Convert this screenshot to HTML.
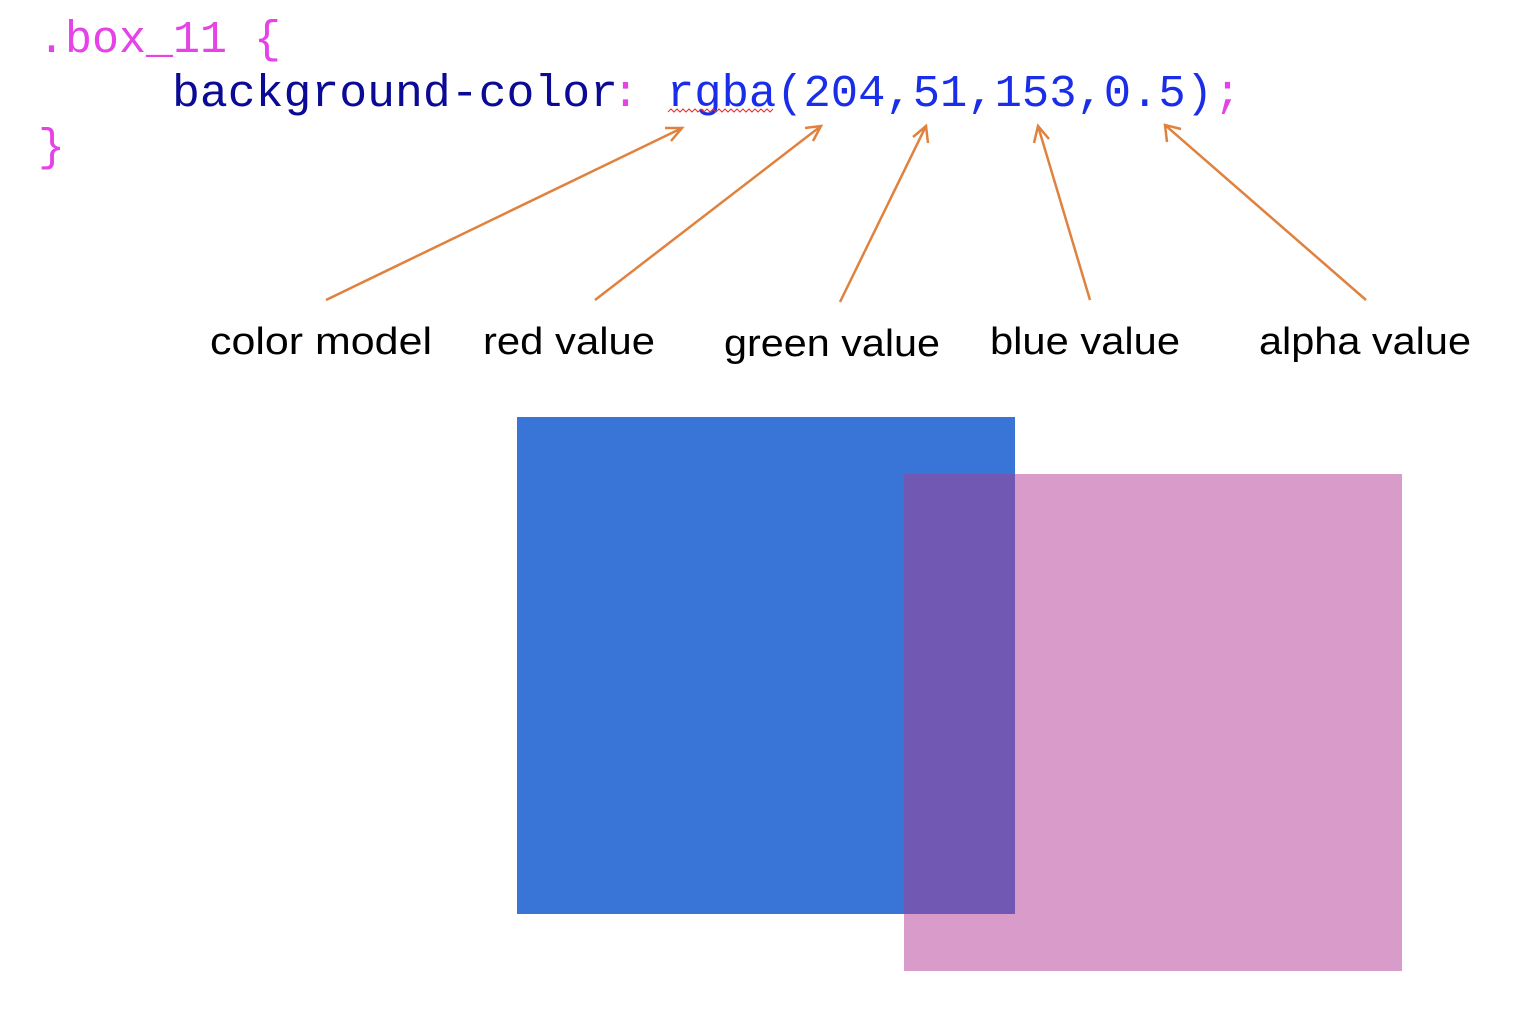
<!DOCTYPE html>
<html><head><style>html,body{margin:0;padding:0;background:#fff;}</style></head><body>
<svg width="1534" height="1016" xmlns="http://www.w3.org/2000/svg">
<g font-family="Liberation Mono, monospace" font-size="45">
<text x="38" y="52" fill="#e542e8">.box_11 {</text>
<text x="172" y="106" fill="#0a0a94" textLength="446" lengthAdjust="spacingAndGlyphs">background-color</text>
<text x="612" y="106" fill="#e542e8">:</text>
<text x="667" y="106" fill="#1a2de8" textLength="546" lengthAdjust="spacingAndGlyphs">rgba(204,51,153,0.5)</text>
<text x="1214" y="106" fill="#e542e8">;</text>
<text x="38" y="160" fill="#e542e8">}</text>
</g>
<path d="M668 112 l3 -3 l3 3 l3 -3 l3 3 l3 -3 l3 3 l3 -3 l3 3 l3 -3 l3 3 l3 -3 l3 3 l3 -3 l3 3 l3 -3 l3 3 l3 -3 l3 3 l3 -3 l3 3 l3 -3 l3 3 l3 -3 l3 3 l3 -3 l3 3 l3 -3 l3 3 l3 -3 l3 3 l3 -3 l3 3 l3 -3 l3 3 l3 -3" fill="none" stroke="#e03030" stroke-width="1"/>
<g stroke="#e0823e" stroke-width="2.5" fill="none">
<line x1="326" y1="300" x2="682" y2="128"/><path d="M665 128 L682 128 L671 141"/>
<line x1="595" y1="300" x2="821" y2="126"/><path d="M805 128 L821 126 L813 141"/>
<line x1="840" y1="302" x2="926" y2="126"/><path d="M913 137 L926 126 L928 143"/>
<line x1="1090" y1="300" x2="1038" y2="126"/><path d="M1034 143 L1038 126 L1049 139"/>
<line x1="1366" y1="300" x2="1165" y2="125"/><path d="M1167 142 L1165 125 L1181 129"/>
</g>
<g font-family="Liberation Sans, sans-serif" font-size="38" fill="#000">
<text x="210" y="354" textLength="222" lengthAdjust="spacingAndGlyphs">color model</text>
<text x="483" y="354" textLength="172" lengthAdjust="spacingAndGlyphs">red value</text>
<text x="724" y="356" textLength="216" lengthAdjust="spacingAndGlyphs">green value</text>
<text x="990" y="354" textLength="190" lengthAdjust="spacingAndGlyphs">blue value</text>
<text x="1259" y="354" textLength="212" lengthAdjust="spacingAndGlyphs">alpha value</text>
</g>
<rect x="517" y="417" width="498" height="497" fill="#3875d7"/>
<rect x="904" y="474" width="498" height="497" fill="#d99bc9"/>
<rect x="904" y="474" width="111" height="440" fill="#7158b3"/>
</svg>
</body></html>
